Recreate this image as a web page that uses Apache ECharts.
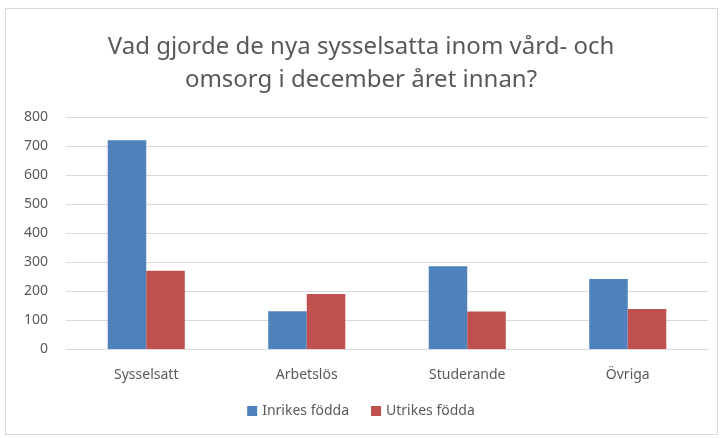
<!DOCTYPE html>
<html>
<head>
<meta charset="utf-8">
<script src="https://cdn.jsdelivr.net/npm/echarts@6/dist/echarts.min.js"></script>
<style>
html, body { margin: 0; padding: 0; background: #fff; }
#main { width: 722px; height: 438px; }
</style>
</head>
<body>
<div id="main"></div>
<script>
// data
var categories = ['Sysselsatt', 'Arbetslös', 'Studerande', 'Övriga'];
var inrikes = [720, 130, 285, 241];
var utrikes = [270, 190, 129, 138];
var seriesNames = ['Inrikes födda', 'Utrikes födda'];

var myChart = echarts.init(document.getElementById('main'));
var font = 'Noto Sans';

var option = {
    backgroundColor: '#fff',
    textStyle: { fontFamily: font },
    title: {
        text: 'Vad gjorde de nya sysselsatta inom vård- och\nomsorg i december året innan?',
        left: 'center',
        top: 26,
        textStyle: { fontFamily: font, fontSize: 24, fontWeight: 'normal', color: '#595959', lineHeight: 33 }
    },
    graphic: [{
        type: 'rect',
        shape: { x: 5.5, y: 8.5, width: 712, height: 426 },
        style: { fill: 'none', stroke: '#d9d9d9', lineWidth: 1 },
        silent: true
    }],
    legend: {
        data: seriesNames,
        bottom: 15,
        left: 'center',
        itemWidth: 10,
        itemHeight: 10,
        itemGap: 22,
        icon: 'rect',
        textStyle: { fontFamily: font, fontSize: 14, color: '#595959' }
    },
    grid: { left: 66, right: 14, top: 117, bottom: 89, containLabel: false },
    xAxis: {
        type: 'category',
        data: categories,
        axisLine: { lineStyle: { color: '#d9d9d9' } },
        axisTick: { show: false },
        axisLabel: { fontFamily: font, fontSize: 14, color: '#595959', margin: 19 }
    },
    yAxis: {
        type: 'value',
        min: 0,
        max: 800,
        interval: 100,
        axisLine: { show: false },
        axisTick: { show: false },
        splitLine: { lineStyle: { color: '#d9d9d9' } },
        axisLabel: { fontFamily: font, fontSize: 14, color: '#595959', margin: 18 }
    },
    series: [{
        name: seriesNames[0],
        type: 'bar',
        data: inrikes,
        barGap: '0%',
        barCategoryGap: '52%',
        itemStyle: { color: '#4f81bd' }
    }, {
        name: seriesNames[1],
        type: 'bar',
        data: utrikes,
        itemStyle: { color: '#c0504d' }
    }]
};

myChart.setOption(option);
</script>
</body>
</html>
